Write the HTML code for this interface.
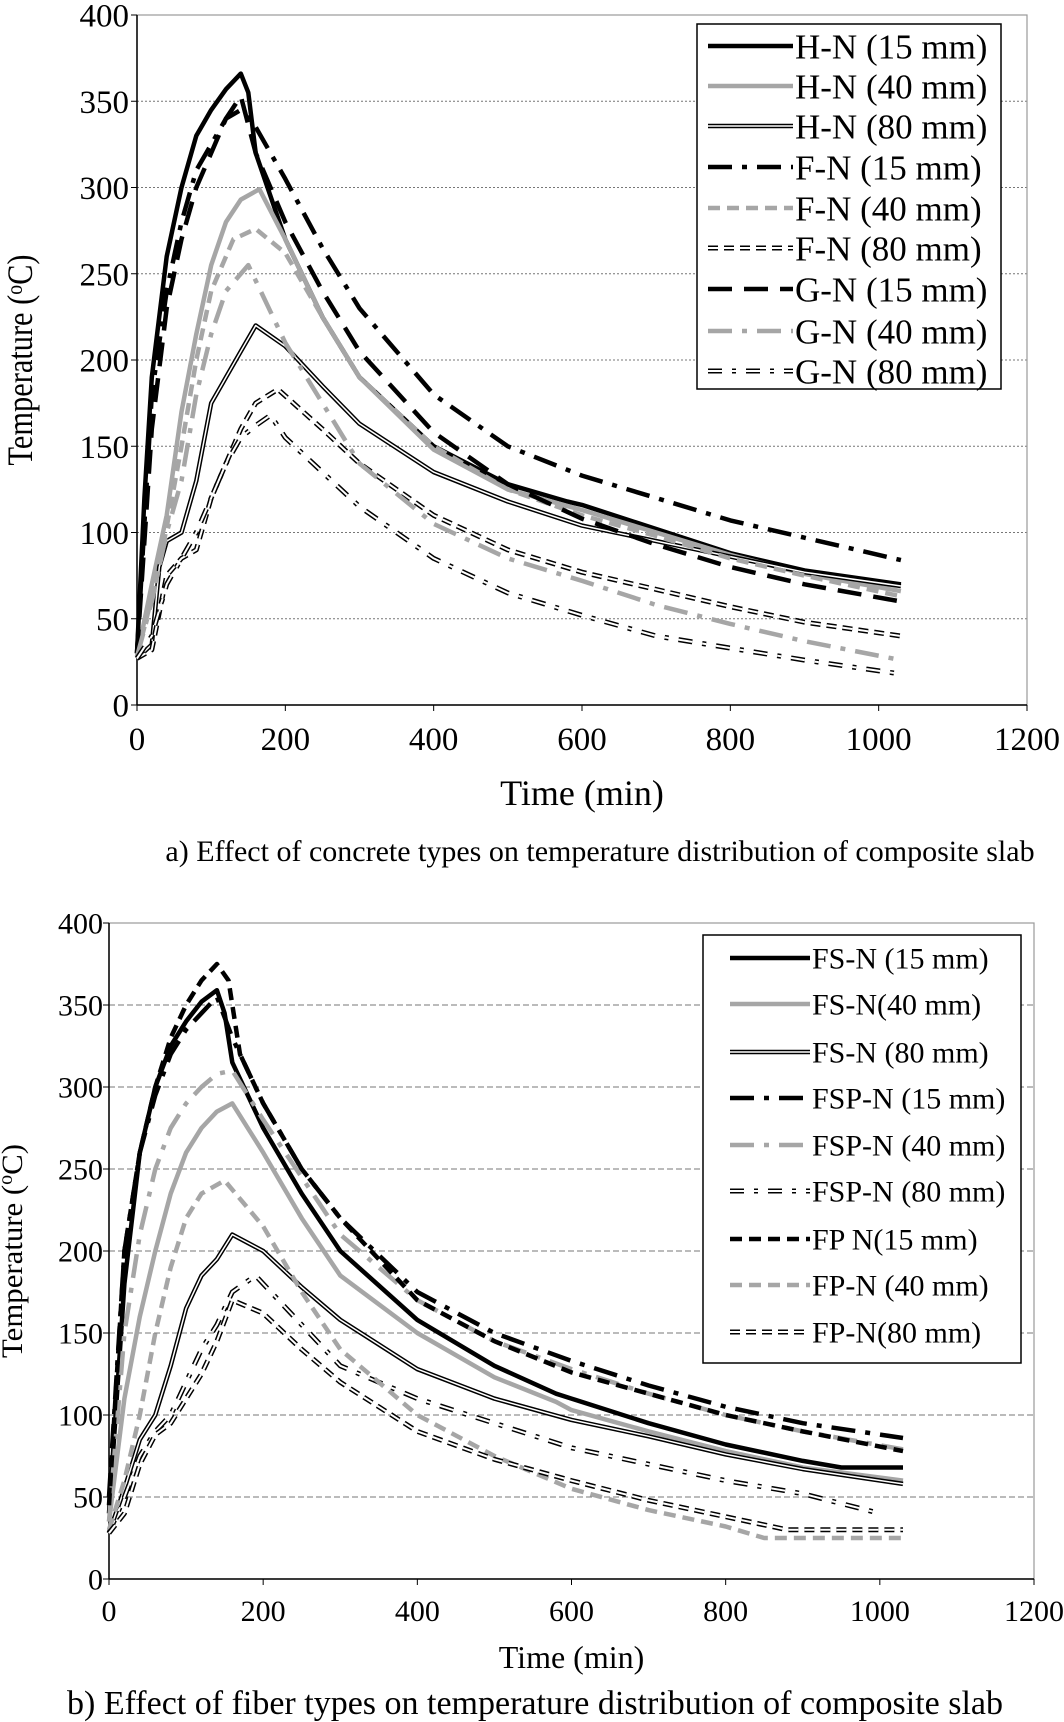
<!DOCTYPE html>
<html><head><meta charset="utf-8"><style>
body{margin:0;background:#fff}
svg{display:block;font-family:"Liberation Serif",serif}
</style></head><body>
<svg id="s" width="1064" height="1722" viewBox="0 0 1064 1722" xmlns="http://www.w3.org/2000/svg"></svg>
<script>
const yTicks=[0,50,100,150,200,250,300,350,400];
const xTicks=[0,200,400,600,800,1000,1200];
// Chart A series [time, temperature]
const hn15=[[0,30],[10,120],[20,190],[40,260],[60,300],[80,330],[100,345],[120,357],[140,366],[150,355],[160,320],[180,295],[200,270],[250,225],[300,190],[400,150],[500,128],[580,118],[600,116],[700,102],[800,88],[900,78],[1030,70]];
const hn40=[[0,28],[20,70],[40,110],[60,170],[80,215],[100,255],[120,280],[140,293],[165,299],[200,270],[250,225],[300,190],[400,148],[500,125],[600,113],[700,100],[800,87],[900,76],[1030,66]];
const hn80=[[0,27],[20,35],[30,80],[40,95],[60,100],[80,130],[100,175],[120,190],[140,205],[160,220],[200,208],[250,185],[300,163],[400,135],[500,118],[600,104],[700,95],[800,86],[900,77],[1030,69]];
const fn15=[[0,30],[20,180],[40,240],[60,280],[80,310],[100,325],[120,340],[140,345],[160,335],[200,305],[250,265],[300,230],[400,180],[500,150],[600,133],[700,120],[800,107],[900,97],[1030,84]];
const fn40=[[0,28],[30,80],[60,150],[80,200],[100,240],[130,270],[160,276],[200,262],[250,225],[300,190],[400,150],[500,125],[600,110],[700,98],[800,85],[900,75],[1030,63]];
const fn80=[[0,27],[20,32],[40,75],[60,85],[80,90],[100,120],[120,140],[140,160],[160,175],[190,183],[250,160],[300,140],[400,110],[500,90],[600,77],[700,67],[800,57],[900,48],[1030,40]];
const gn15=[[0,30],[20,160],[40,230],[60,270],[80,300],[100,320],[120,340],[140,353],[160,320],[200,280],[250,240],[300,205],[400,158],[500,128],[600,108],[700,93],[800,80],[900,70],[1030,60]];
const gn40=[[0,28],[20,60],[40,100],[60,130],[80,180],[100,215],[120,240],[150,255],[200,210],[250,175],[300,140],[400,105],[500,85],[600,72],[700,58],[800,47],[900,37],[1030,26]];
const gn80=[[0,27],[20,40],[40,70],[60,85],[80,100],[100,120],[120,140],[140,155],[160,162],[180,168],[200,155],[300,115],[400,85],[500,65],[600,52],[700,40],[800,33],[900,26],[1030,18]];
// Chart B series
const fs15=[[0,40],[20,180],[40,260],[60,300],[80,325],[100,340],[120,352],[140,359],[150,345],[160,315],[200,275],[250,235],[300,200],[400,158],[500,130],[580,113],[600,110],[700,95],[800,82],[900,72],[950,68],[1030,68]];
const fs40=[[0,35],[20,110],[40,160],[60,200],[80,235],[100,260],[120,275],[140,285],[160,290],[200,260],[250,220],[300,185],[400,150],[500,123],[580,108],[600,103],[700,90],[800,78],[900,68],[1030,60]];
const fs80=[[0,28],[20,55],[40,85],[60,100],[80,130],[100,165],[120,185],[140,195],[160,210],[200,200],[250,178],[300,158],[400,128],[500,110],[600,97],[700,87],[800,76],[900,67],[1030,58]];
const fsp15=[[0,50],[20,200],[40,260],[60,295],[80,320],[100,335],[120,345],[140,355],[160,330],[200,290],[250,250],[300,220],[400,175],[500,150],[600,133],[700,118],[800,105],[900,95],[1030,86]];
const fsp40=[[0,35],[20,150],[40,210],[60,250],[80,275],[100,290],[120,300],[140,308],[160,310],[200,280],[250,245],[300,210],[400,170],[500,145],[600,128],[700,113],[800,100],[900,90],[1030,79]];
const fsp80=[[0,28],[20,50],[40,75],[60,90],[80,100],[100,120],[120,140],[140,155],[160,175],[190,185],[250,155],[300,130],[400,110],[500,95],[600,80],[700,70],[800,60],[900,52],[1000,40]];
const fp15=[[0,45],[20,200],[40,260],[60,300],[80,330],[100,350],[120,365],[140,375],[155,365],[170,320],[200,290],[250,250],[300,220],[400,170],[500,145],[600,126],[700,113],[800,100],[900,90],[1030,78]];
const fp40=[[0,30],[20,60],[40,100],[60,150],[80,190],[100,220],[120,235],[150,243],[200,215],[250,175],[300,140],[400,100],[500,75],[600,55],[700,42],[800,32],[850,25],[1030,25]];
const fp80=[[0,28],[20,40],[40,70],[60,88],[80,95],[100,110],[120,125],[140,145],[160,170],[200,162],[250,140],[300,120],[400,90],[500,73],[600,60],[700,48],[800,38],[880,30],[1030,30]];

const NS="http://www.w3.org/2000/svg";
const svg=document.getElementById('s');
function mk(tag,attrs,parent,text){const e=document.createElementNS(NS,tag);for(const k in attrs)e.setAttribute(k,attrs[k]);if(text!==undefined)e.textContent=text;(parent||svg).appendChild(e);return e;}
const STY={
 solidB:{c:'#000',w:4.5,d:null},solidG:{c:'#a6a6a6',w:4.5,d:null},dbl:{c:'#000',w:4.5,d:null,dbl:true},
 dashdotB:{c:'#000',w:4.5,d:'24 10 5 10'},dashG:{c:'#a6a6a6',w:4.5,d:'12 7'},dblDash:{c:'#000',w:5,d:'10 6',dbl:true},
 longdashB:{c:'#000',w:4.5,d:'24 12'},dashdotG:{c:'#a6a6a6',w:4.5,d:'24 10 5 10'},dblDashDot:{c:'#000',w:5,d:'14 10 4 10',dbl:true},
 dashB:{c:'#000',w:4.5,d:'12 7'}
};
function chart(cfg){
 const g=mk('g',{});
 
 
 const X=v=>cfg.x0+(v/1200)*(cfg.x1-cfg.x0);
 const Y=v=>cfg.y0-(v/400)*(cfg.y0-cfg.y1);
 const grid=mk('g',{},g);
 yTicks.forEach(t=>{if(t>0&&t<400)mk('line',{x1:cfg.x0,x2:cfg.x1,y1:Y(t),y2:Y(t),stroke:'#777','stroke-width':1,'stroke-dasharray':cfg.gd},grid);});
 mk('rect',{x:cfg.x0,y:cfg.y1,width:cfg.x1-cfg.x0,height:cfg.y0-cfg.y1,fill:'none',stroke:'#999','stroke-width':1.2},g);
 const ax=mk('g',{},g);
 mk('line',{x1:cfg.x0,x2:cfg.x0,y1:cfg.y1,y2:cfg.y0,stroke:'#000','stroke-width':1.5},ax);
 mk('line',{x1:cfg.x0,x2:cfg.x1,y1:cfg.y0,y2:cfg.y0,stroke:'#000','stroke-width':1.5},ax);
 yTicks.forEach(t=>{mk('line',{x1:cfg.x0-6,x2:cfg.x0,y1:Y(t),y2:Y(t),stroke:'#000'},ax);
  const tl=mk('text',{x:cfg.x0-cfg.ylo,y:Y(t)+cfg.fs*0.35,'text-anchor':'end','font-size':cfg.fs},ax,String(t));
  });
 xTicks.forEach(t=>{mk('line',{x1:X(t),x2:X(t),y1:cfg.y0,y2:cfg.y0+6,stroke:'#000'},ax);
  const tl=mk('text',{x:X(t),y:cfg.y0+cfg.fs+12,'text-anchor':'middle','font-size':cfg.fs},ax,String(t));
  });
 const xt=mk('text',{x:(cfg.x0+cfg.x1)/2,y:cfg.xty,'text-anchor':'middle','font-size':cfg.tfs},g,'Time (min)');
 
 const yt=mk('text',{x:0,y:0,'text-anchor':'middle','font-size':cfg.ytfs,textLength:cfg.ytl,lengthAdjust:'spacingAndGlyphs',transform:`translate(${cfg.ytx},${(cfg.y0+cfg.y1)/2}) rotate(-90)`},g);
 
 yt.textContent='Temperature (';mk('tspan',{'font-size':cfg.ytfs*0.65,dy:-10},yt,'o');mk('tspan',{dy:10},yt,'C)');
 function drawLine(par,pts,st){
  if(st.dbl){mk('path',{d:pts,fill:'none',stroke:'#000','stroke-width':st.w,'stroke-dasharray':st.d||'none','stroke-linejoin':'round'},par);
   mk('path',{d:pts,fill:'none',stroke:'#fff','stroke-width':st.w-3,'stroke-dasharray':st.d||'none','stroke-linejoin':'round'},par);}
  else mk('path',{d:pts,fill:'none',stroke:st.c,'stroke-width':st.w,'stroke-dasharray':st.d||'none','stroke-linejoin':'round'},par);
 }
 cfg.series.forEach(s=>{
  const d=s.data.map((p,i)=>(i?'L':'M')+X(p[0]).toFixed(1)+','+Y(p[1]).toFixed(1)).join(' ');
  const sg=mk('g',{},g);
  drawLine(sg,d,STY[s.st]);
 });
 const L=cfg.leg;
 const lg=mk('g',{},g);
 mk('rect',{x:L.x,y:L.y,width:L.w,height:L.h,fill:'#fff',stroke:'#000','stroke-width':1.5},lg);
 cfg.series.forEach((s,i)=>{
  const yy=L.ys[i];
  const e=mk('g',{},lg);
  drawLine(e,`M${L.sx0},${yy} L${L.sx1},${yy}`,STY[s.st]);
  mk('text',{x:L.tx,y:yy+L.fs*0.35,'font-size':L.fs},e,s.label);
 });
}
chart({name:'chart-concrete-types',x0:137,x1:1027,y0:705,y1:15,gd:'2 2',fs:33,ylo:8,tfs:36,ytfs:36,ytl:211,xty:805,ytx:32,
 series:[{id:'hn15',data:hn15,st:'solidB',label:'H-N (15 mm)'},{id:'hn40',data:hn40,st:'solidG',label:'H-N (40 mm)'},{id:'hn80',data:hn80,st:'dbl',label:'H-N (80 mm)'},
 {id:'fn15',data:fn15,st:'dashdotB',label:'F-N (15 mm)'},{id:'fn40',data:fn40,st:'dashG',label:'F-N (40 mm)'},{id:'fn80',data:fn80,st:'dblDash',label:'F-N (80 mm)'},
 {id:'gn15',data:gn15,st:'longdashB',label:'G-N (15 mm)'},{id:'gn40',data:gn40,st:'dashdotG',label:'G-N (40 mm)'},{id:'gn80',data:gn80,st:'dblDashDot',label:'G-N (80 mm)'}],
 leg:{x:697,y:24,w:304,h:365,sx0:708,sx1:793,tx:795,fs:35,ys:[46,86,126,167,208,248,289,331,371]}});
chart({name:'chart-fiber-types',x0:109,x1:1034,y0:1579,y1:923,gd:'6 3',fs:30,ylo:6,tfs:32,ytfs:30,ytl:214,xty:1668,ytx:22,
 series:[{id:'fs15',data:fs15,st:'solidB',label:'FS-N (15 mm)'},{id:'fs40',data:fs40,st:'solidG',label:'FS-N(40 mm)'},{id:'fs80',data:fs80,st:'dbl',label:'FS-N (80 mm)'},
 {id:'fsp15',data:fsp15,st:'dashdotB',label:'FSP-N (15 mm)'},{id:'fsp40',data:fsp40,st:'dashdotG',label:'FSP-N (40 mm)'},{id:'fsp80',data:fsp80,st:'dblDashDot',label:'FSP-N (80 mm)'},
 {id:'fp15',data:fp15,st:'dashB',label:'FP N(15 mm)'},{id:'fp40',data:fp40,st:'dashG',label:'FP-N (40 mm)'},{id:'fp80',data:fp80,st:'dblDash',label:'FP-N(80 mm)'}],
 leg:{x:703,y:935,w:318,h:428,sx0:730,sx1:810,tx:812,fs:30,ys:[958,1004,1052,1098,1145,1191,1239,1285,1332]}});
const c1=mk('text',{x:600,y:861,'text-anchor':'middle','font-size':30},svg,'a) Effect of concrete types on temperature distribution of composite slab');

const c2=mk('text',{x:535,y:1714,'text-anchor':'middle','font-size':34},svg,'b) Effect of fiber types on temperature distribution of composite slab');

</script>
</body></html>
